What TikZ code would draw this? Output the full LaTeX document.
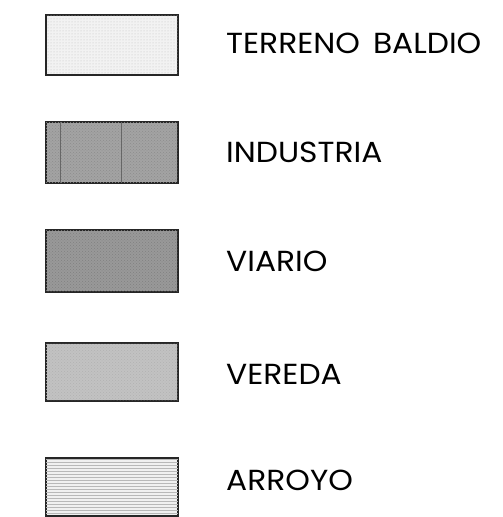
\documentclass[tikz,border=0pt]{standalone}
\usepackage{fontspec}
\setmainfont{Poppins}
\newfontfamily\legendfont[FakeStretch=1.08]{Poppins}
\usepackage{tikz}
\usetikzlibrary{patterns, positioning}

\begin{document}
\begin{tikzpicture}[x=1pt, y=-1pt,
    swatch/.style={rectangle, draw=black!85, line width=1.3pt, minimum width=132pt, inner sep=0pt},
    legend/.style={anchor=west, inner sep=0pt, font=\legendfont\fontsize{29}{32}\selectfont}]
    \useasboundingbox (0,0) rectangle (503,517);

    % Swatches
    \node [swatch, fill=black!5, minimum height=60pt] (baldio) at (112,45) {};
    \node [swatch, fill=black!36, minimum height=61pt] (industria) at (112,152.5) {};
    \node [swatch, fill=black!40, minimum height=62pt] (viario) at (112,261) {};
    \node [swatch, fill=black!24, minimum height=58pt] (vereda) at (112,372) {};
    \node [swatch, fill=black!6, minimum height=58pt] (arroyo) at (112,487) {};

    % Textures
    \fill [pattern=dots, pattern color=black!25] (baldio.south west) rectangle (baldio.north east);
    \fill [pattern=crosshatch dots, pattern color=black!45] (industria.south west) rectangle (industria.north east);
    \draw [black!60, line width=0.6pt] ([xshift=15pt]industria.north west) -- ([xshift=15pt]industria.south west);
    \draw [black!60, line width=0.6pt] ([xshift=76pt]industria.north west) -- ([xshift=76pt]industria.south west);
    \fill [pattern=crosshatch dots, pattern color=black!50] (viario.south west) rectangle (viario.north east);
    \fill [pattern=crosshatch dots, pattern color=black!30] (vereda.south west) rectangle (vereda.north east);
    \fill [pattern=horizontal lines, pattern color=black!28] (arroyo.south west) rectangle (arroyo.north east);
    \foreach \n in {baldio, industria, viario, vereda, arroyo}
        \draw [black!85, line width=1.3pt] (\n.south west) rectangle (\n.north east);

    % Labels
    \node [legend] (tbaldio) at (226,43) {TERRENO\hspace{0.45em}BALDIO};
    \node [legend] (tindustria) at (226,152) {INDUSTRIA};
    \node [legend] (tviario) at (226,261) {VIARIO};
    \node [legend] (tvereda) at (226,374) {VEREDA};
    \node [legend] (tarroyo) at (226,480) {ARROYO};
\end{tikzpicture}
\end{document}
